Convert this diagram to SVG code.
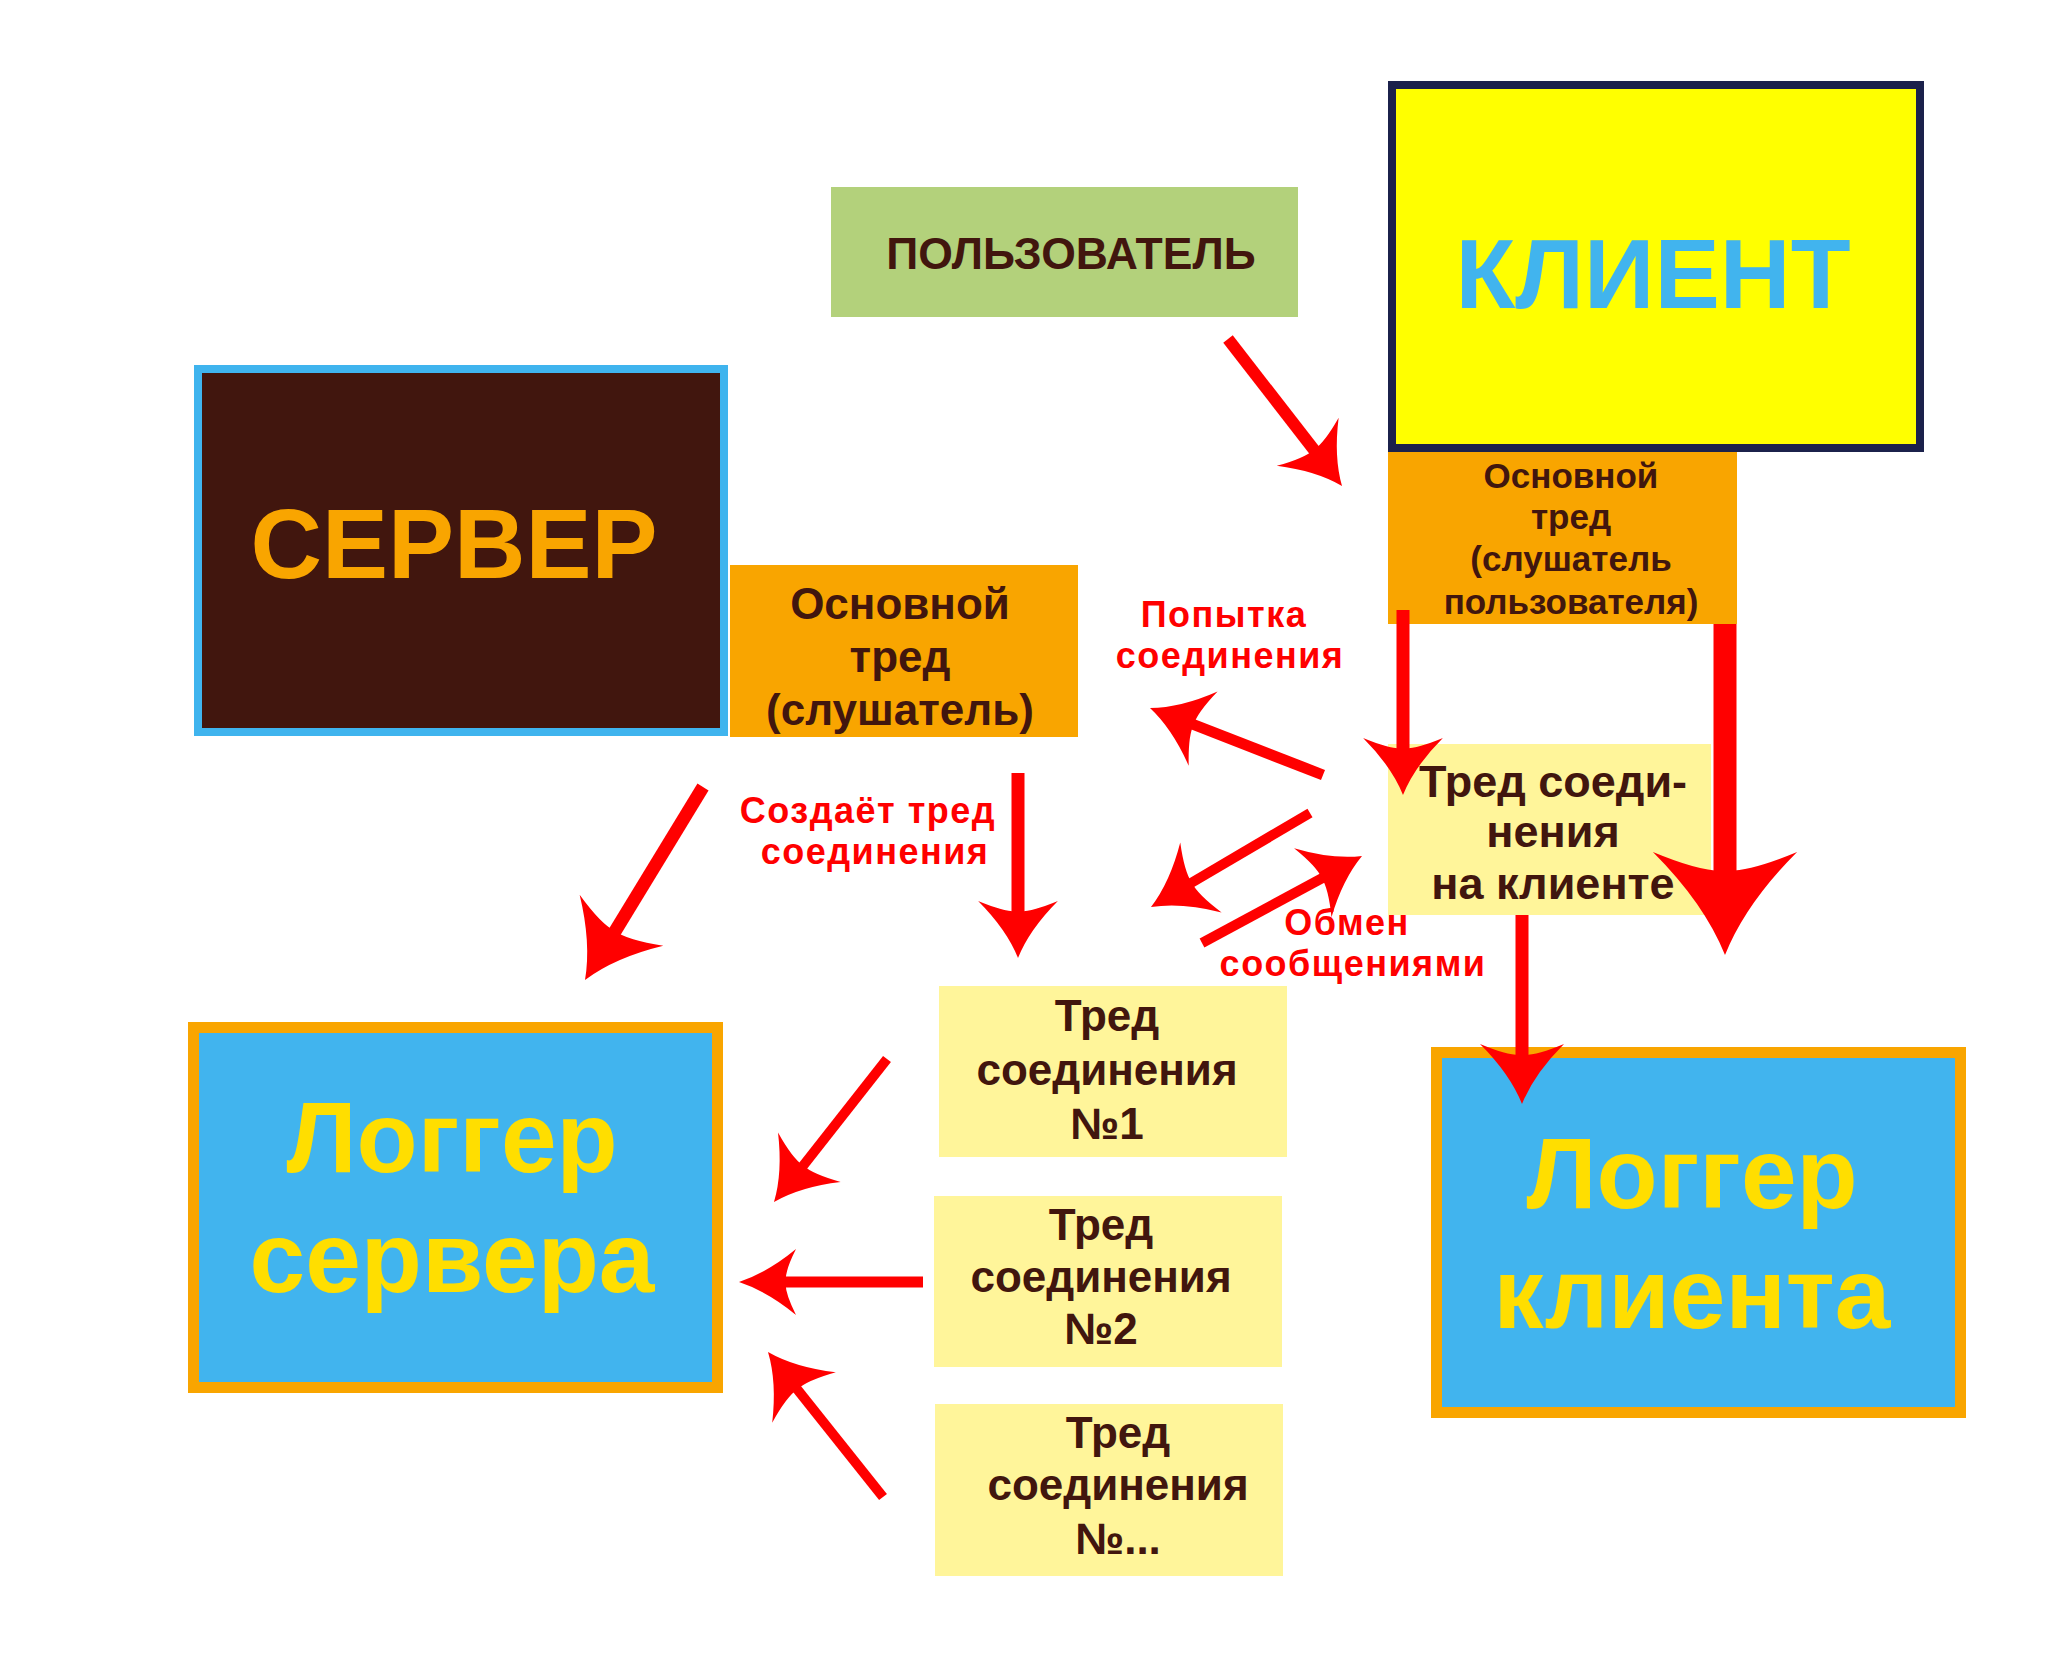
<svg xmlns="http://www.w3.org/2000/svg" xmlns:xlink="http://www.w3.org/1999/xlink" width="2048" height="1674" viewBox="0 0 2048 1674">
<style>
text { font-family: "Liberation Sans", Arial, sans-serif; font-weight: bold; text-anchor: middle; }
.dark { fill: #41160e; }
.lbl { fill: #ff0000; font-size: 36px; letter-spacing: 1.5px; }
.thr { fill: #fff59a; }
.org { fill: #f9a500; }
.shaft { stroke: #ff0000; fill: none; stroke-linecap: butt; }
.head { fill: #ff0000; }
.logtxt { fill: #ffde00; font-size: 100px; }
</style>
<defs>
<path id="ah" d="M0,0 Q-50,-20 -100,-70 Q-80,-22 -82,0 Q-80,22 -100,70 Q-50,20 0,0 Z"/>
</defs>
<rect width="2048" height="1674" fill="#ffffff"/>

<g id="user">
<rect x="831" y="187" width="467" height="130" fill="#b3d17b"/>
<text x="1071" y="269" class="dark" font-size="44.5">ПОЛЬЗОВАТЕЛЬ</text>
</g>

<g id="client">
<rect x="1392" y="85" width="528" height="363" fill="#ffff00" stroke="#1b214b" stroke-width="8"/>
<text x="1653" y="308" fill="#41b4ee" font-size="98">КЛИЕНТ</text>
</g>

<g id="client-main">
<rect x="1388" y="452" width="349" height="172" class="org"/>
<text class="dark" font-size="35"><tspan x="1571" y="488">Основной</tspan><tspan x="1571" y="529">тред</tspan><tspan x="1571" y="571">(слушатель</tspan><tspan x="1571" y="614">пользователя)</tspan></text>
</g>

<g id="server">
<rect x="198" y="369" width="526" height="363" fill="#41160e" stroke="#3fb4ee" stroke-width="8"/>
<text x="454" y="578" fill="#f9a500" font-size="99">СЕРВЕР</text>
</g>

<g id="server-main">
<rect x="730" y="565" width="348" height="172" class="org"/>
<text class="dark" font-size="44"><tspan x="900" y="619">Основной</tspan><tspan x="900" y="672">тред</tspan><tspan x="900" y="725">(слушатель)</tspan></text>
</g>

<g id="client-conn">
<rect x="1388" y="744" width="323" height="171" class="thr"/>
<text class="dark" font-size="45"><tspan x="1553" y="797">Тред соеди-</tspan><tspan x="1553" y="847">нения</tspan><tspan x="1553" y="899">на клиенте</tspan></text>
</g>

<g id="thread1">
<rect x="939" y="986" width="348" height="171" class="thr"/>
<text class="dark" font-size="44"><tspan x="1107" y="1031">Тред</tspan><tspan x="1107" y="1085">соединения</tspan><tspan x="1107" y="1139">№1</tspan></text>
</g>

<g id="thread2">
<rect x="934" y="1196" width="348" height="171" class="thr"/>
<text class="dark" font-size="44"><tspan x="1101" y="1240">Тред</tspan><tspan x="1101" y="1292">соединения</tspan><tspan x="1101" y="1344">№2</tspan></text>
</g>

<g id="thread3">
<rect x="935" y="1404" width="348" height="172" class="thr"/>
<text class="dark" font-size="44"><tspan x="1118" y="1448">Тред</tspan><tspan x="1118" y="1500">соединения</tspan><tspan x="1118" y="1554">№...</tspan></text>
</g>

<g id="server-logger">
<rect x="193.5" y="1027.5" width="524" height="360" fill="#41b4ee" stroke="#f9a500" stroke-width="11"/>
<text class="logtxt"><tspan x="452" y="1172">Логгер</tspan><tspan x="452" y="1292">сервера</tspan></text>
</g>

<g id="client-logger">
<rect x="1436.5" y="1052.5" width="524" height="360" fill="#41b4ee" stroke="#f9a500" stroke-width="11"/>
<text class="logtxt"><tspan x="1692" y="1208">Логгер</tspan><tspan x="1692" y="1328">клиента</tspan></text>
</g>

<g id="labels">
<text class="lbl"><tspan x="1224" y="627">Попытка</tspan><tspan x="1230" y="668">соединения</tspan></text>
<text class="lbl"><tspan x="868" y="823">Создаёт тред</tspan><tspan x="875" y="864">соединения</tspan></text>
<text class="lbl"><tspan x="1347" y="935">Обмен</tspan><tspan x="1353" y="976">сообщениями</tspan></text>
</g>

<g id="connectors">
<line class="shaft" x1="1228" y1="339" x2="1318" y2="455" stroke-width="12"/>
<use xlink:href="#ah" class="head" transform="translate(1342,486) rotate(52.2) scale(0.56)"/>

<line class="shaft" x1="1323" y1="775" x2="1187" y2="722" stroke-width="11"/>
<use xlink:href="#ah" class="head" transform="translate(1150,708) rotate(201.2) scale(0.57)"/>

<line class="shaft" x1="1403" y1="610" x2="1403" y2="755" stroke-width="13"/>
<use xlink:href="#ah" class="head" transform="translate(1403,795) rotate(90) scale(0.57)"/>

<line class="shaft" x1="1725" y1="624" x2="1725" y2="883" stroke-width="23"/>
<use xlink:href="#ah" class="head" transform="translate(1725,955) rotate(90) scale(1.03)"/>

<line class="shaft" x1="1522" y1="915" x2="1522" y2="1062" stroke-width="13"/>
<use xlink:href="#ah" class="head" transform="translate(1522,1104) rotate(90) scale(0.6)"/>

<line class="shaft" x1="1310" y1="813" x2="1186" y2="886" stroke-width="10"/>
<use xlink:href="#ah" class="head" transform="translate(1151,907) rotate(149.4) scale(0.58)"/>

<line class="shaft" x1="1202" y1="943" x2="1328" y2="875" stroke-width="10"/>
<use xlink:href="#ah" class="head" transform="translate(1362,856) rotate(-28.5) scale(0.56)"/>

<line class="shaft" x1="1018" y1="773" x2="1018" y2="918" stroke-width="13"/>
<use xlink:href="#ah" class="head" transform="translate(1018,958) rotate(90) scale(0.57)"/>

<line class="shaft" x1="703" y1="787" x2="611" y2="938" stroke-width="13"/>
<use xlink:href="#ah" class="head" transform="translate(585,980) rotate(121.4) scale(0.7)"/>

<line class="shaft" x1="887" y1="1059" x2="799" y2="1171" stroke-width="10"/>
<use xlink:href="#ah" class="head" transform="translate(774,1202) rotate(128.3) scale(0.57)"/>

<line class="shaft" x1="923" y1="1282" x2="779" y2="1282" stroke-width="11"/>
<use xlink:href="#ah" class="head" transform="translate(739,1282) rotate(180) scale(0.57,0.47)"/>

<line class="shaft" x1="883" y1="1497" x2="793" y2="1384" stroke-width="10"/>
<use xlink:href="#ah" class="head" transform="translate(768,1352) rotate(231.6) scale(0.58)"/>
</g>
</svg>
